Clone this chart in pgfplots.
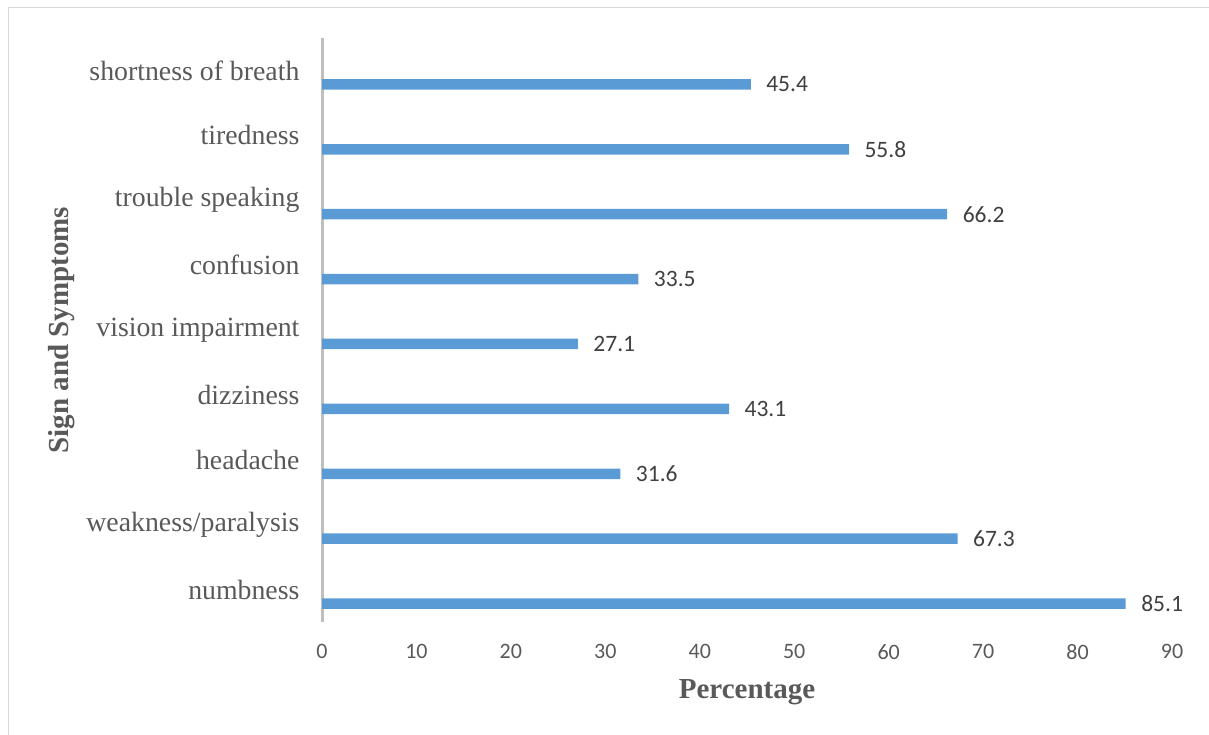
\documentclass[border=0pt]{standalone}
\usepackage{pgfplots}
\pgfplotsset{compat=1.18}
\usepackage{pgfplotstable}
\usepackage{fontspec}
\setmainfont{Liberation Serif}
\newfontfamily\calibri{Carlito}
\definecolor{barblue}{HTML}{5B9BD5}
\definecolor{txtgray}{HTML}{595959}
\definecolor{lblgray}{HTML}{404040}
\definecolor{axgray}{HTML}{BFBFBF}
\definecolor{framegray}{HTML}{D9D9D9}

\pgfplotstableread{
y val lab
0 85.1 85.1
1 67.3 67.3
2 31.6 31.6
3 43.1 43.1
4 27.1 27.1
5 33.5 33.5
6 66.2 66.2
7 55.8 55.8
8 45.4 45.4
}\datatable

\begin{document}
\begin{tikzpicture}[x=1pt,y=1pt]
\useasboundingbox (0,0) rectangle (1209,735);
\draw[color=framegray, line width=1.5pt] (8.5,0) -- (8.5,727.5) -- (1209,727.5);
\begin{axis}[
  at={(322pt,113pt)}, anchor=south west,
  scale only axis, width=850pt, height=584pt,
  xbar, bar width=10.5pt, bar shift=-14pt,
  xmin=0, xmax=90, ymin=-0.5, ymax=8.5,
  xtick={0,10,...,90}, ytick={0,...,8},
  yticklabels={numbness, weakness/paralysis, headache, dizziness, vision impairment, confusion, trouble speaking, tiredness, shortness of breath},
  separate axis lines,
  axis x line=bottom, axis y line=left,
  hide obscured x ticks=false,
  x axis line style={draw=none},
  y axis line style={draw=axgray, line width=3pt, -},
  major tick length=0pt, tick style={draw=none},
  xticklabel style={font=\calibri\fontsize{22}{22}\selectfont, text=txtgray, yshift=-19pt},
  yticklabel style={font=\fontsize{27.8}{28}\selectfont, text=txtgray, xshift=-19pt},
  /pgf/number format/assume math mode=true,
  xlabel={\bfseries Percentage},
  ylabel={\bfseries Sign and Symptoms},
  xlabel style={font=\fontsize{29}{29}\selectfont, text=txtgray, at={(axis description cs:0.5,0)}, anchor=center, yshift=-70pt},
  ylabel style={font=\fontsize{29}{29}\selectfont, text=txtgray, at={(axis description cs:0,0.5)}, anchor=center, yshift=260pt},
  point meta=explicit symbolic,
  nodes near coords,
  every node near coord/.append style={font=\calibri\fontsize{23.5}{23.5}\selectfont, text=lblgray, anchor=west, xshift=12pt},
  clip=false,
]
\addplot[fill=barblue, draw=none] table[x=val, y=y, meta=lab]{\datatable};
\end{axis}
\end{tikzpicture}
\end{document}
